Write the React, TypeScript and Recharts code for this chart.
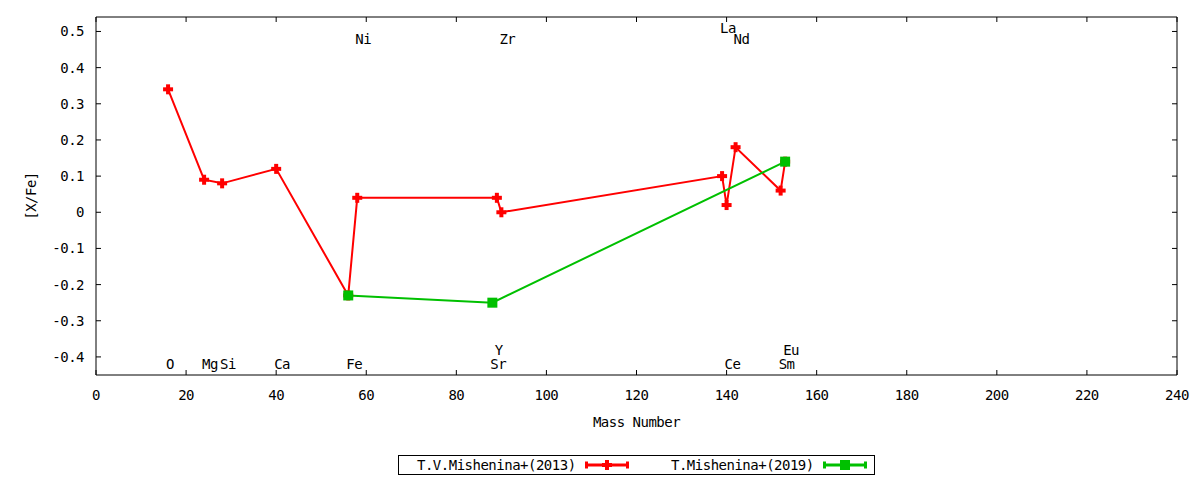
import React from "react";
import { ComposedChart, Line, Scatter, XAxis, YAxis } from "recharts";

// [X/Fe] abundances against mass number
const RED_MASS = [16, 24, 28, 40, 56, 58, 89, 90, 139, 140, 142, 152, 153];
const RED_XFE = [0.34, 0.09, 0.08, 0.12, -0.23, 0.04, 0.04, 0.0, 0.1, 0.02, 0.18, 0.06, 0.14];
const GREEN_MASS = [56, 88, 153];
const GREEN_XFE = [-0.23, -0.25, 0.14];

// element names drawn inside the plot
const LABEL_TEXT = ["O", "Mg", "Si", "Ca", "Fe", "Ni", "Sr", "Y", "Zr", "La", "Ce", "Nd", "Sm", "Eu"];
const LABEL_MASS = [16, 24, 28, 40, 56, 58, 88, 89, 90, 139, 140, 142, 152, 153];
const LABEL_Y = [-0.42, -0.42, -0.42, -0.42, -0.42, 0.48, -0.42, -0.38, 0.48, 0.51, -0.42, 0.48, -0.42, -0.38];

const X_TICKS = [0, 20, 40, 60, 80, 100, 120, 140, 160, 180, 200, 220, 240];
const Y_TICKS = [-0.4, -0.3, -0.2, -0.1, 0, 0.1, 0.2, 0.3, 0.4, 0.5];

const RED_NAME = "T.V.Mishenina+(2013)";
const GREEN_NAME = "T.Mishenina+(2019)";

const RED = "#ff0000";
const GREEN = "#00c000";
const FONT = "'DejaVu Sans Mono', monospace";
const textStyle = { fontFamily: FONT, fontSize: 14, letterSpacing: -0.5, fill: "#000" };
const TICK_LEN = 5;
const X_GAP = 14; // axis line to top of x tick labels
const Y_GAP = 12; // axis line to end of y tick labels

const redData = RED_MASS.map((m, i) => ({ mass: m, xfe: RED_XFE[i] }));
const greenData = GREEN_MASS.map((m, i) => ({ mass: m, xfe: GREEN_XFE[i] }));
const labelData = LABEL_TEXT.map((t, i) => ({ name: t, mass: LABEL_MASS[i], xfe: LABEL_Y[i] }));

function PlusDot(props: any) {
  const { cx, cy } = props;
  if (cx == null || cy == null) return null;
  return (
    <g fill={RED}>
      <rect x={cx - 5} y={cy - 2} width={10} height={4} />
      <rect x={cx - 2} y={cy - 5} width={4} height={10} />
    </g>
  );
}

function SquareDot(props: any) {
  const { cx, cy } = props;
  if (cx == null || cy == null) return null;
  return <rect x={cx - 5} y={cy - 5} width={10} height={10} fill={GREEN} />;
}

function ElementLabel(props: any) {
  const { cx, cy, payload } = props;
  return (
    <text x={cx - 2} y={cy} dominantBaseline="central" textAnchor="start" style={textStyle}>
      {payload.name}
    </text>
  );
}

// inward tick marks, gnuplot style
function BottomTick(props: any) {
  const { x, y, payload } = props;
  const axisY = y - X_GAP;
  return (
    <g>
      <line x1={x} y1={axisY} x2={x} y2={axisY - TICK_LEN} stroke="#000" />
      <text x={x} y={y} dy="0.78em" textAnchor="middle" style={textStyle}>
        {payload.value}
      </text>
    </g>
  );
}

function TopTick(props: any) {
  const { x, y } = props;
  return <line x1={x} y1={y} x2={x} y2={y + TICK_LEN} stroke="#000" />;
}

function LeftTick(props: any) {
  const { x, y, payload } = props;
  const axisX = x + Y_GAP;
  const v = payload.value;
  return (
    <g>
      <line x1={axisX} y1={y} x2={axisX + TICK_LEN} y2={y} stroke="#000" />
      <text x={x} y={y} dominantBaseline="central" textAnchor="end" style={textStyle}>
        {v === 0 ? "0" : v.toFixed(1)}
      </text>
    </g>
  );
}

function RightTick(props: any) {
  const { x, y } = props;
  return <line x1={x} y1={y} x2={x - TICK_LEN} y2={y} stroke="#000" />;
}

function LegendBox() {
  return (
    <div
      style={{
        position: "absolute",
        left: 398,
        top: 455,
        width: 477,
        height: 20,
        border: "1px solid #000",
        boxSizing: "border-box",
        background: "#fff",
      }}
    >
      <svg width={477} height={20} style={{ position: "absolute", left: -1, top: -1 }}>
        <text x={19} y={10} dominantBaseline="central" style={textStyle}>
          {RED_NAME}
        </text>
        <g fill={RED}>
          <rect x={187} y={8.5} width={44} height={3} />
          <rect x={187} y={6.5} width={3} height={7} />
          <rect x={228} y={6.5} width={3} height={7} />
          <rect x={204} y={8} width={10} height={4} />
          <rect x={207} y={5} width={4} height={10} />
        </g>
        <text x={273} y={10} dominantBaseline="central" style={textStyle}>
          {GREEN_NAME}
        </text>
        <g fill={GREEN}>
          <rect x={425} y={8.5} width={44} height={3} />
          <rect x={425} y={6.5} width={3} height={7} />
          <rect x={466} y={6.5} width={3} height={7} />
          <rect x={442} y={5} width={10} height={10} />
        </g>
      </svg>
    </div>
  );
}

export default function App() {
  return (
    <div style={{ position: "absolute", left: 0, top: 0, width: 1200, height: 480, background: "#fff" }}>
      <ComposedChart width={1200} height={480} margin={{ top: 16, right: 22, bottom: 0, left: 0 }}>
        <XAxis
          xAxisId="b"
          type="number"
          dataKey="mass"
          domain={[0, 240]}
          ticks={X_TICKS}
          allowDataOverflow
          height={105}
          tickLine={false}
          tickSize={0}
          tickMargin={X_GAP}
          stroke="#000"
          tick={BottomTick}
          label={{ value: "Mass Number", position: "insideTop", offset: 42, style: textStyle }}
        />
        <XAxis
          xAxisId="t"
          orientation="top"
          type="number"
          dataKey="mass"
          domain={[0, 240]}
          ticks={X_TICKS}
          allowDataOverflow
          height={1}
          tickLine={false}
          tickSize={0}
          tickMargin={0}
          stroke="#000"
          tick={TopTick}
        />
        <YAxis
          yAxisId="l"
          type="number"
          dataKey="xfe"
          domain={[-0.45, 0.54]}
          ticks={Y_TICKS}
          allowDataOverflow
          width={96}
          tickLine={false}
          tickSize={0}
          tickMargin={Y_GAP}
          stroke="#000"
          tick={LeftTick}
          label={{ value: "[X/Fe]", angle: -90, position: "insideLeft", offset: 31, style: { ...textStyle, textAnchor: "middle" } }}
        />
        <YAxis
          yAxisId="r"
          orientation="right"
          type="number"
          dataKey="xfe"
          domain={[-0.45, 0.54]}
          ticks={Y_TICKS}
          allowDataOverflow
          width={1}
          tickLine={false}
          tickSize={0}
          tickMargin={0}
          stroke="#000"
          tick={RightTick}
        />
        <Scatter
          xAxisId="b"
          yAxisId="l"
          data={labelData}
          dataKey="xfe"
          shape={ElementLabel}
          isAnimationActive={false}
        />
        <Line
          xAxisId="b"
          yAxisId="l"
          data={redData}
          dataKey="xfe"
          type="linear"
          stroke={RED}
          strokeWidth={2}
          dot={PlusDot}
          activeDot={false}
          isAnimationActive={false}
        />
        <Line
          xAxisId="b"
          yAxisId="l"
          data={greenData}
          dataKey="xfe"
          type="linear"
          stroke={GREEN}
          strokeWidth={2}
          dot={SquareDot}
          activeDot={false}
          isAnimationActive={false}
        />
      </ComposedChart>
      <LegendBox />
    </div>
  );
}
